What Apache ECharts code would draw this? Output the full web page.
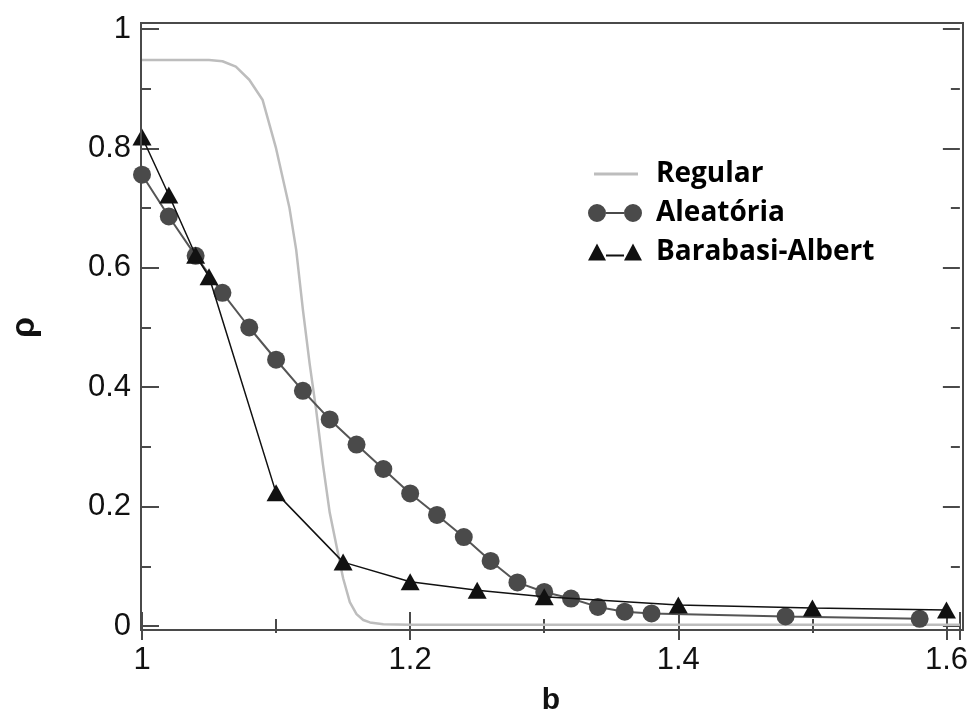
<!DOCTYPE html>
<html><head><meta charset="utf-8">
<script src="https://cdn.jsdelivr.net/npm/echarts/dist/echarts.min.js"></script>
<style>html,body{margin:0;padding:0;background:#fff}#c{width:971px;height:727px}</style>
</head><body><div id="c"></div>
<script>
// ---- data ----
const seriesNames = ['Regular', 'Aleatória', 'Barabasi-Albert'];
const regularX = [1.00, 1.02, 1.04, 1.05, 1.06, 1.07, 1.08, 1.09, 1.10, 1.105, 1.11, 1.115, 1.12, 1.125, 1.13, 1.135, 1.14, 1.145, 1.15, 1.155, 1.16, 1.165, 1.17, 1.18, 1.20, 1.30, 1.40, 1.50, 1.61];
const regularY = [0.948, 0.948, 0.948, 0.948, 0.946, 0.937, 0.915, 0.881, 0.80, 0.75, 0.70, 0.63, 0.53, 0.44, 0.36, 0.27, 0.19, 0.135, 0.08, 0.04, 0.02, 0.01, 0.006, 0.003, 0.002, 0.002, 0.002, 0.002, 0.002];
const aleatoriaX = [1.00, 1.02, 1.04, 1.06, 1.08, 1.10, 1.12, 1.14, 1.16, 1.18, 1.20, 1.22, 1.24, 1.26, 1.28, 1.30, 1.32, 1.34, 1.36, 1.38, 1.48, 1.58];
const aleatoriaY = [0.756, 0.686, 0.620, 0.558, 0.500, 0.446, 0.394, 0.346, 0.304, 0.263, 0.222, 0.186, 0.149, 0.109, 0.073, 0.057, 0.046, 0.032, 0.024, 0.021, 0.016, 0.012];
const baX = [1.00, 1.02, 1.04, 1.05, 1.10, 1.15, 1.20, 1.25, 1.30, 1.40, 1.50, 1.60];
const baY = [0.819, 0.722, 0.621, 0.585, 0.223, 0.107, 0.074, 0.060, 0.049, 0.035, 0.030, 0.027];
const xTickLabels = ['1', '1.2', '1.4', '1.6'];
const yTickLabels = ['0', '0.2', '0.4', '0.6', '0.8', '1'];

const pairs = (xs, ys) => xs.map((x, i) => [x, ys[i]]);

const tickFont = 'Liberation Sans, Arial, sans-serif';
const frameColor = '#4a4a4a';

const lineIcon = 'path://M0,0 L0.01,0 L0.01,0.01 Z M6,7.5 L50,7.5 L50,10.5 L6,10.5 Z M54,18 L53.99,18 L53.99,17.99 Z';
const circleIcon = 'path://M0,9 A9,9 0 1,1 18,9 A9,9 0 1,1 0,9 Z M18,8 L36,8 L36,10 L18,10 Z M36,9 A9,9 0 1,1 54,9 A9,9 0 1,1 36,9 Z';
const triIcon = 'path://M0,18 L9,1 L18,18 Z M18,12 L36,12 L36,14 L18,14 Z M36,18 L45,1 L54,18 Z';

const chart = echarts.init(document.getElementById('c'), null, {renderer: 'canvas'});
const xFmt = v => { const s = (Math.round(v * 10) / 10).toString(); return xTickLabels.includes(s) ? s : ''; };
const yFmt = v => { const s = (Math.round(v * 10) / 10).toString(); return yTickLabels.includes(s) ? s : ''; };

chart.setOption({
  animation: false,
  backgroundColor: '#fff',
  grid: [
    {left: 141, right: 8, top: 29, bottom: 101},
    {left: 141, right: 8, top: 23, bottom: 97, show: true, borderColor: frameColor, borderWidth: 2, backgroundColor: 'transparent', z: 10}
  ],
  legend: {
    orient: 'vertical', left: 583, top: 155,
    itemWidth: 54, itemHeight: 18, itemGap: 11,
    data: [
      {name: seriesNames[0], icon: lineIcon},
      {name: seriesNames[1], icon: circleIcon},
      {name: seriesNames[2], icon: triIcon}
    ],
    textStyle: {fontFamily: 'Open Sans', fontWeight: 'bold', fontSize: 28, color: '#000', padding: [0, 0, 0, 9]}
  },
  xAxis: [
    {type: 'value', gridIndex: 0, position: 'bottom', offset: 4, min: 1, max: 1.61, interval: 0.2,
     name: 'b', nameLocation: 'middle', nameGap: 56,
     nameTextStyle: {fontFamily: tickFont, fontWeight: 'bold', fontSize: 30, color: '#111'},
     axisLine: {show: false}, splitLine: {show: false},
     axisTick: {show: true, inside: true, length: 14, lineStyle: {color: frameColor, width: 2}},
     minorTick: {show: true, splitNumber: 2, length: 7, lineStyle: {color: frameColor, width: 2}},
     axisLabel: {fontFamily: tickFont, fontSize: 31, color: '#111', margin: 15, showMaxLabel: false, formatter: xFmt}},
    {type: 'value', gridIndex: 0, position: 'top', offset: 6, min: 1, max: 1.61, interval: 0.2,
     axisLine: {show: false}, splitLine: {show: false}, axisLabel: {show: false},
     axisTick: {show: true, inside: true, length: 14, lineStyle: {color: frameColor, width: 2}},
     minorTick: {show: true, splitNumber: 2, length: 7, lineStyle: {color: frameColor, width: 2}}}
  ],
  yAxis: [
    {type: 'value', gridIndex: 0, position: 'left', min: 0, max: 1, interval: 0.2,
     name: 'ρ', nameLocation: 'middle', nameGap: 100,
     nameTextStyle: {fontFamily: tickFont, fontWeight: 'bold', fontSize: 34, color: '#111'},
     axisLine: {show: false}, splitLine: {show: false},
     axisTick: {show: true, inside: true, length: 17, lineStyle: {color: frameColor, width: 2}},
     minorTick: {show: true, splitNumber: 2, length: 9, lineStyle: {color: frameColor, width: 2}},
     axisLabel: {fontFamily: tickFont, fontSize: 31, color: '#111', margin: 11, formatter: yFmt}},
    {type: 'value', gridIndex: 0, position: 'right', min: 0, max: 1, interval: 0.2,
     axisLine: {show: false}, splitLine: {show: false}, axisLabel: {show: false},
     axisTick: {show: true, inside: true, length: 17, lineStyle: {color: frameColor, width: 2}},
     minorTick: {show: true, splitNumber: 2, length: 9, lineStyle: {color: frameColor, width: 2}}}
  ],
  series: [
    {name: seriesNames[0], type: 'line', xAxisIndex: 0, yAxisIndex: 0, data: pairs(regularX, regularY),
     showSymbol: false, symbol: 'none', color: '#bdbdbd', lineStyle: {color: '#bdbdbd', width: 2.5}, z: 1},
    {name: seriesNames[1], type: 'line', xAxisIndex: 0, yAxisIndex: 0, data: pairs(aleatoriaX, aleatoriaY),
     symbol: 'circle', symbolSize: 18, color: '#4a4a4a',
     itemStyle: {color: '#4a4a4a'}, lineStyle: {color: '#555', width: 2}, z: 2},
    {name: seriesNames[2], type: 'line', xAxisIndex: 0, yAxisIndex: 0, data: pairs(baX, baY),
     symbol: 'triangle', symbolSize: [19, 17], color: '#111',
     itemStyle: {color: '#111'}, lineStyle: {color: '#111', width: 1.5}, z: 3}
  ]
});
</script></body></html>
